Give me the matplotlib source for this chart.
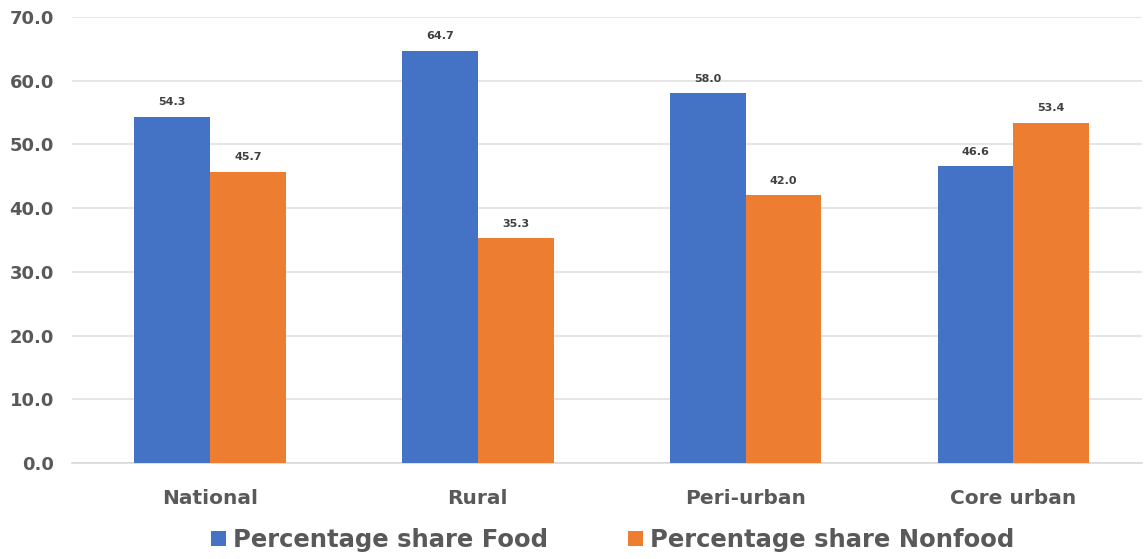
import matplotlib.pyplot as plt
import numpy as np

categories = ['National', 'Rural', 'Peri-urban', 'Core urban']
food = [54.3, 64.7, 58.0, 46.6]
nonfood = [45.7, 35.3, 42.0, 53.4]
series_names = ['Percentage share Food', 'Percentage share Nonfood']

blue = '#4472c4'
orange = '#ed7d31'
grey_text = '#595959'

plt.rcParams['font.family'] = ['DejaVu Sans']

fig = plt.figure(figsize=(11.45, 5.59), dpi=100)
ax = fig.add_axes([72 / 1145, 1 - 463 / 559, 1070 / 1145, 446 / 559])

x = np.arange(len(categories))
w = 0.283
b1 = ax.bar(x - w / 2, food, w, color=blue, label=series_names[0], zorder=3)
b2 = ax.bar(x + w / 2, nonfood, w, color=orange, label=series_names[1], zorder=3)

for bars in (b1, b2):
    for rect in bars:
        h = rect.get_height()
        ax.text(rect.get_x() + rect.get_width() / 2, h + 1.5, f'{h:.1f}',
                ha='center', va='bottom', fontsize=8, fontweight='bold',
                color='#404040')

ax.set_xlim(-0.515, 3.48)
ax.set_ylim(0, 70)
ax.set_yticks(np.arange(0, 71, 10))
ax.set_yticklabels([f'{v:.1f}' for v in np.arange(0, 71, 10)],
                   fontsize=13, fontweight='bold', color=grey_text)
ax.set_xticks(x)
ax.set_xticklabels(categories, fontsize=14.5, fontweight='bold', color=grey_text)
ax.tick_params(axis='both', length=0)
ax.tick_params(axis='y', pad=13)
ax.tick_params(axis='x', pad=19)

ax.grid(axis='y', color='#e0e0e0', linewidth=1.2, zorder=0)
for s in ('top', 'right', 'left'):
    ax.spines[s].set_visible(False)
ax.spines['bottom'].set_color('#d9d9d9')
ax.spines['bottom'].set_linewidth(1.2)

fig.legend(handles=[b1, b2], loc='center', bbox_to_anchor=(0.535, 1 - 540 / 559),
           ncol=2, frameon=False, handlelength=0.6, handleheight=0.6,
           handletextpad=0.3, columnspacing=3.3,
           prop={'weight': 'bold', 'size': 17.5})
for t in fig.legends[0].get_texts():
    t.set_color(grey_text)

fig.savefig('out.png', dpi=100, facecolor='white')
